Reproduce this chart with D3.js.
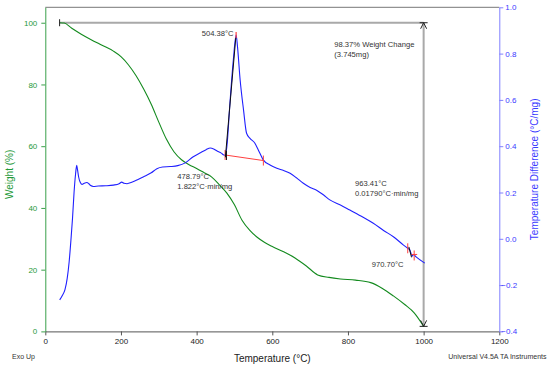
<!DOCTYPE html>
<html><head><meta charset="utf-8">
<script src="https://cdn.jsdelivr.net/npm/d3@7"></script>
<style>body{margin:0;background:#fff} svg{display:block} text{font-family:"Liberation Sans",Arial,sans-serif}</style>
</head><body><svg id="c" width="550" height="366"></svg>
<script>
// ---- data ----
const tgaTemp   = [38, 50, 70, 95, 120, 150, 180, 200, 220, 240, 260, 280, 300, 320, 340, 360, 380, 400, 420, 440, 460, 480, 500, 520, 540, 560, 580, 600, 630, 660, 690, 720, 750, 780, 820, 860, 890, 920, 950, 975, 1000];
const tgaWeight = [100, 99.9, 98.2, 96.3, 94.6, 92.7, 90.8, 89, 86.3, 82.8, 78.5, 73.6, 67.8, 62.3, 58.2, 55.6, 54, 52.8, 51.4, 50, 47.5, 44.8, 41, 36, 32.8, 30.5, 28.8, 27.5, 25.8, 23.8, 21.2, 18.3, 17.5, 17.0, 16.6, 15.8, 14.0, 11.5, 8.7, 6.0, 1.63];
const dtaTemp = [38, 45, 52, 58, 63, 68, 72, 76, 80, 83, 85, 88, 92, 97, 103, 110, 115, 120, 127, 140, 160, 180, 195, 202, 208, 216, 230, 245, 260, 280, 295, 310, 330, 350, 370, 390, 410, 425, 436, 445, 455, 465, 472, 476, 480, 488, 497, 504.4, 508, 515, 524, 532, 541, 554, 563, 576, 594, 612, 630, 647, 665, 682, 700, 717, 735, 752, 780, 805, 840, 867, 895, 920, 946, 958, 963, 967, 970, 973, 980, 1003];
const dtaDiff = [-0.264, -0.245, -0.22, -0.17, -0.10, 0.0, 0.09, 0.2, 0.28, 0.318, 0.30, 0.268, 0.245, 0.235, 0.24, 0.243, 0.238, 0.23, 0.226, 0.228, 0.229, 0.232, 0.238, 0.245, 0.24, 0.238, 0.245, 0.256, 0.268, 0.285, 0.303, 0.31, 0.312, 0.316, 0.328, 0.353, 0.372, 0.385, 0.392, 0.388, 0.378, 0.37, 0.362, 0.36, 0.40, 0.585, 0.772, 0.88, 0.83, 0.686, 0.556, 0.456, 0.434, 0.413, 0.384, 0.341, 0.319, 0.305, 0.295, 0.283, 0.262, 0.24, 0.222, 0.21, 0.19, 0.168, 0.146, 0.124, 0.093, 0.067, 0.035, 0.009, -0.026, -0.041, -0.047, -0.065, -0.075, -0.068, -0.078, -0.105];
const xTicks = [0, 200, 400, 600, 800, 1000, 1200];
const weightTicks = [0, 20, 40, 60, 80, 100];
const diffTicks = [-0.4, -0.2, 0.0, 0.2, 0.4, 0.6, 0.8, 1.0];
const weightStep = {start: 37.8, end: 1000, top: 100, bottom: 1.63};
const peakBase = {t1: 475.3, d1: 0.362, t2: 576.4, d2: 0.338, onset: 478.79, peakT: 504.38, peakD: 0.88, tanT: 476, tanD: 0.352};
const labels = [
  {t: 413.4, w: 95.8, s: "504.38°C"},
  {t: 763.9, w: 92.0, s: "98.37% Weight Change"},
  {t: 763.9, w: 89.0, s: "(3.745mg)"},
  {t: 348.9, w: 49.3, s: "478.79°C"},
  {t: 348.9, w: 46.2, s: "1.822°C·min/mg"},
  {t: 818.6, w: 47.1, s: "963.41°C"},
  {t: 818.6, w: 44.0, s: "0.01790°C·min/mg"},
  {t: 862.7, w: 21.0, s: "970.70°C"}
];

// ---- setup ----
const L = 45.3, R = 499.3, T = 7.3, B = 331.4;
const svg = d3.select("#c");
const x = d3.scaleLinear().domain([0, 1200]).range([L, R]);
const yW = d3.scaleLinear().domain([0, 105]).range([B, T]);
const yD = d3.scaleLinear().domain([-0.4, 1.0]).range([B, T]);

const green = "#138a1e", greenTxt = "#1f9a3a", blue = "#2020ff", blueAx = "#8080ff", blueTxt = "#3a3aff";

// frame top
svg.append("line").attr("x1", L).attr("x2", R).attr("y1", T).attr("y2", T).attr("stroke", "#777").attr("stroke-width", 1);

// bottom axis
const gx = svg.append("g").attr("transform", `translate(0,${B})`);
gx.call(d3.axisBottom(x).tickValues(d3.range(0, 1201, 50)).tickSize(3).tickFormat("").tickSizeOuter(0));
gx.call(d3.axisBottom(x).tickValues(xTicks).tickSize(4).tickPadding(3).tickSizeOuter(0).tickFormat(d3.format("d")));
gx.selectAll("path,line").attr("stroke", "#555");
gx.selectAll("text").attr("font-size", 8).attr("fill", "#222").attr("font-family", "Liberation Sans, Arial, sans-serif");

// left axis
const gl = svg.append("g").attr("transform", `translate(${L},0)`);
gl.call(d3.axisLeft(yW).tickValues(d3.range(0, 106, 5)).tickSize(2).tickFormat("").tickSizeOuter(0));
gl.call(d3.axisLeft(yW).tickValues(weightTicks).tickSize(4).tickPadding(4).tickSizeOuter(0));
gl.selectAll("path,line").attr("stroke", "#3aa04a");
gl.selectAll("text").attr("font-size", 8).attr("fill", greenTxt).attr("font-family", "Liberation Sans, Arial, sans-serif");

// right axis
const gr = svg.append("g").attr("transform", `translate(${R},0)`);
gr.call(d3.axisRight(yD).tickValues(d3.range(-8, 21, 1).map(v => v * 0.05)).tickSize(2.5).tickFormat("").tickSizeOuter(0));
gr.call(d3.axisRight(yD).tickValues(diffTicks).tickSize(4).tickPadding(2).tickSizeOuter(0).tickFormat(d3.format(".1f")));
gr.selectAll("path,line").attr("stroke", blueAx);
gr.selectAll("text").attr("font-size", 8).attr("fill", blueTxt).attr("font-family", "Liberation Sans, Arial, sans-serif")
  .attr("dx", d => d < 0 ? -4 : 0);

// axis titles
svg.append("text").attr("transform", `translate(13,${(yW(0)+yW(105))/2 + 5}) rotate(-90)`).attr("text-anchor", "middle")
  .attr("font-size", 10).attr("fill", greenTxt).text("Weight (%)");
svg.append("text").attr("transform", `translate(538,${(yD(-0.4)+yD(1.0))/2}) rotate(-90)`).attr("text-anchor", "middle")
  .attr("font-size", 10).attr("fill", blueTxt).text("Temperature Difference (°C/mg)");
svg.append("text").attr("x", (x(0)+x(1200))/2).attr("y", 362).attr("text-anchor", "middle").attr("font-size", 10).attr("fill", "#222").text("Temperature (°C)");
svg.append("text").attr("x", 12).attr("y", 358.5).attr("font-size", 7).attr("fill", "#333").text("Exo Up");
svg.append("text").attr("x", 546.5).attr("y", 358.5).attr("text-anchor", "end").attr("font-size", 7).attr("fill", "#333").text("Universal V4.5A TA Instruments");

// weight step annotation (gray)
const gray = "#a9a9a9";
svg.append("line").attr("x1", x(weightStep.start)).attr("x2", x(weightStep.end)).attr("y1", yW(weightStep.top)).attr("y2", yW(weightStep.top)).attr("stroke", gray).attr("stroke-width", 2);
svg.append("line").attr("x1", x(weightStep.end)).attr("x2", x(weightStep.end)).attr("y1", yW(weightStep.top)).attr("y2", yW(weightStep.bottom)).attr("stroke", gray).attr("stroke-width", 2);

// curves
const lineW = d3.line().x((d, i) => x(tgaTemp[i])).y(d => yW(d)).curve(d3.curveMonotoneX);
svg.append("path").attr("d", lineW(tgaWeight)).attr("fill", "none").attr("stroke", green).attr("stroke-width", 1.1);
const lineD = d3.line().x((d, i) => x(dtaTemp[i])).y(d => yD(d)).curve(d3.curveMonotoneX);
svg.append("path").attr("d", lineD(dtaDiff)).attr("fill", "none").attr("stroke", blue).attr("stroke-width", 1.1);

// markers on weight step
const xs = x(weightStep.start), xe = x(weightStep.end), yt = yW(weightStep.top), yb = yW(weightStep.bottom);
svg.append("line").attr("x1", xs).attr("x2", xs).attr("y1", yt - 3.5).attr("y2", yt + 3.5).attr("stroke", "#222");
svg.append("line").attr("x1", xe - 4).attr("x2", xe + 4).attr("y1", yt).attr("y2", yt).attr("stroke", "#222");
svg.append("path").attr("d", `M${xe-3},${yt+6}L${xe},${yt}L${xe+3},${yt+6}`).attr("fill", "none").attr("stroke", "#222");
svg.append("line").attr("x1", xe - 4).attr("x2", xe + 4).attr("y1", yb).attr("y2", yb).attr("stroke", "#222");
svg.append("path").attr("d", `M${xe-3},${yb-6}L${xe},${yb}L${xe+3},${yb-6}`).attr("fill", "none").attr("stroke", "#222");

// peak analysis marks
const red = "#ff4040";
svg.append("line").attr("x1", x(peakBase.t1)).attr("y1", yD(peakBase.d1)).attr("x2", x(peakBase.t2)).attr("y2", yD(peakBase.d2)).attr("stroke", red).attr("stroke-width", 1);
[[peakBase.t1, peakBase.d1], [peakBase.t2, peakBase.d2]].forEach(([t, d]) => {
  svg.append("line").attr("x1", x(t)).attr("x2", x(t)).attr("y1", yD(d) - 5).attr("y2", yD(d) + 5).attr("stroke", red);
});
svg.append("line").attr("x1", x(peakBase.tanT)).attr("y1", yD(peakBase.tanD)).attr("x2", x(peakBase.peakT - 0.8)).attr("y2", yD(peakBase.peakD - 0.01)).attr("stroke", "#111").attr("stroke-width", 1);
svg.append("line").attr("x1", x(peakBase.onset)).attr("x2", x(peakBase.onset)).attr("y1", yD(peakBase.d1) - 4).attr("y2", yD(peakBase.d1) + 5).attr("stroke", "#111");
svg.append("line").attr("x1", x(peakBase.peakT)).attr("x2", x(peakBase.peakT)).attr("y1", yD(peakBase.peakD) - 3).attr("y2", yD(peakBase.peakD) + 3).attr("stroke", red).attr("stroke-width", 1.2);

// 963/970 marks
const m1 = [958, -0.041], m2 = [975, -0.072];
svg.append("line").attr("x1", x(m1[0])).attr("x2", x(m1[0])).attr("y1", yD(m1[1]) - 5).attr("y2", yD(m1[1]) + 5).attr("stroke", red);
svg.append("line").attr("x1", x(m2[0])).attr("x2", x(m2[0])).attr("y1", yD(m2[1]) - 5).attr("y2", yD(m2[1]) + 5).attr("stroke", red);
svg.append("line").attr("x1", x(m2[0]) - 3).attr("x2", x(m2[0]) + 3).attr("y1", yD(m2[1]) - 1).attr("y2", yD(m2[1]) - 1).attr("stroke", red);
svg.append("line").attr("x1", x(961)).attr("y1", yD(-0.035)).attr("x2", x(968)).attr("y2", yD(-0.08)).attr("stroke", "#111");

// text labels
labels.forEach(l => {
  svg.append("text").attr("x", x(l.t)).attr("y", yW(l.w)).attr("font-size", 7.6).attr("fill", "#333").text(l.s);
});
</script></body></html>
